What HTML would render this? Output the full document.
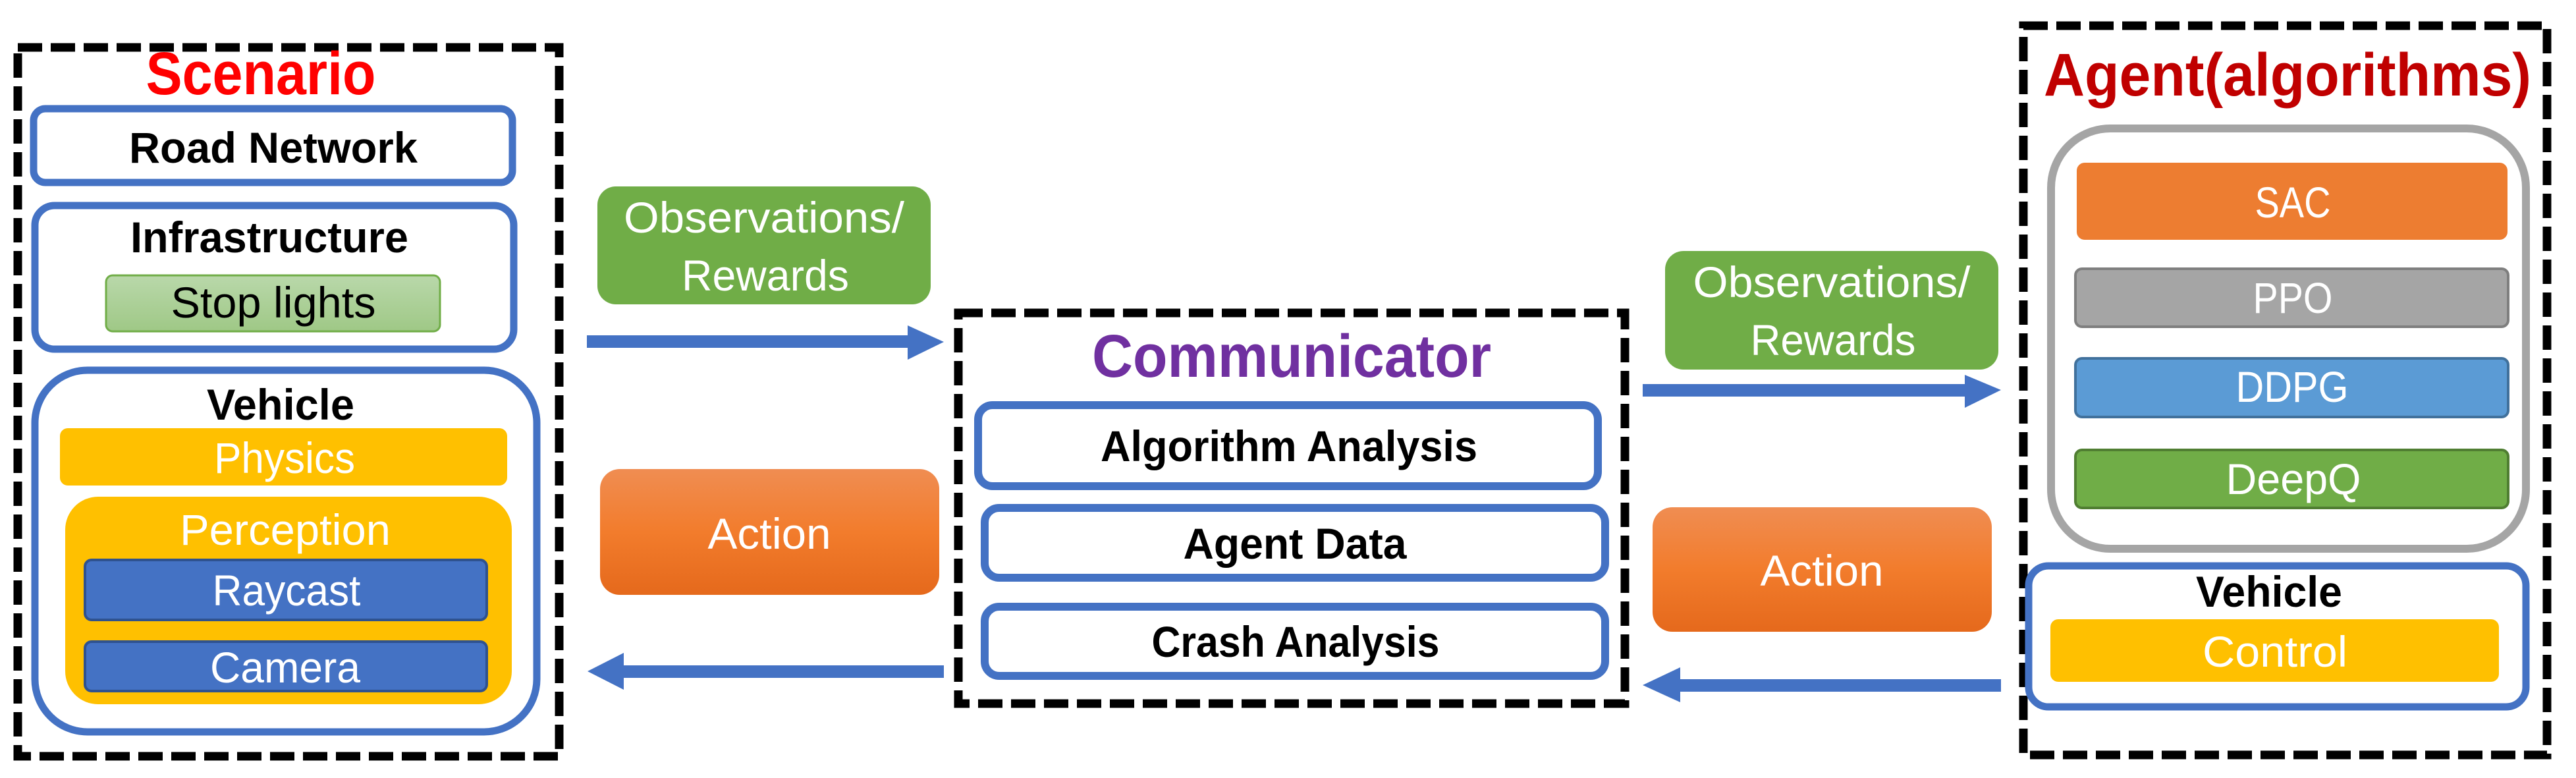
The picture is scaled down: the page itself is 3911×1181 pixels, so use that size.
<!DOCTYPE html>
<html><head><meta charset="utf-8"><style>
html,body{margin:0;padding:0;background:#fff;width:3911px;height:1181px;overflow:hidden}
svg{display:block}
text{font-family:"Liberation Sans",sans-serif}
.b{font-weight:bold;fill:#000}
.w{fill:#fff}
</style></head><body>
<svg width="3911" height="1181" viewBox="0 0 3911 1181" xmlns="http://www.w3.org/2000/svg">
<defs>
<linearGradient id="gs" x1="0" y1="0" x2="0" y2="1"><stop offset="0" stop-color="#b9d8aa"/><stop offset="1" stop-color="#9fc886"/></linearGradient>
<linearGradient id="go" x1="0" y1="0" x2="0" y2="1"><stop offset="0" stop-color="#f08d52"/><stop offset="0.5" stop-color="#f27c2c"/><stop offset="1" stop-color="#e5691c"/></linearGradient>
</defs>
<g fill="none" stroke="#000" stroke-width="13" stroke-dasharray="37 13">
<rect x="27" y="72" width="822" height="1076"/>
<rect x="1455" y="475" width="1012" height="593"/>
<rect x="3072" y="39" width="795" height="1107"/>
</g>
<!-- Scenario -->
<text x="396" y="143" font-size="92" font-weight="bold" fill="#ff0000" text-anchor="middle" textLength="349" lengthAdjust="spacingAndGlyphs">Scenario</text>
<rect x="51" y="165" width="727" height="112" rx="18" fill="#fff" stroke="#4472c4" stroke-width="11"/>
<text class="b" x="415" y="247" font-size="66" text-anchor="middle" textLength="438" lengthAdjust="spacingAndGlyphs">Road Network</text>
<rect x="53" y="312" width="727" height="218" rx="30" fill="#fff" stroke="#4472c4" stroke-width="11"/>
<text class="b" x="409" y="383" font-size="66" text-anchor="middle" textLength="422" lengthAdjust="spacingAndGlyphs">Infrastructure</text>
<rect x="161" y="418" width="507" height="85" rx="10" fill="url(#gs)" stroke="#70ad47" stroke-width="3"/>
<text x="415" y="482" font-size="66" fill="#000" text-anchor="middle" textLength="311" lengthAdjust="spacingAndGlyphs">Stop lights</text>
<rect x="53" y="562" width="762" height="549" rx="80" fill="#fff" stroke="#4472c4" stroke-width="11"/>
<text class="b" x="426" y="637" font-size="66" text-anchor="middle" textLength="224" lengthAdjust="spacingAndGlyphs">Vehicle</text>
<rect x="91" y="650" width="679" height="87" rx="12" fill="#ffc000"/>
<text class="w" x="432" y="718" font-size="66" text-anchor="middle" textLength="214" lengthAdjust="spacingAndGlyphs">Physics</text>
<rect x="99" y="754" width="678" height="315" rx="50" fill="#ffc000"/>
<text class="w" x="433" y="827" font-size="66" text-anchor="middle" textLength="320" lengthAdjust="spacingAndGlyphs">Perception</text>
<rect x="129" y="850" width="610" height="91" rx="10" fill="#4472c4" stroke="#2f528f" stroke-width="4"/>
<text class="w" x="435" y="919" font-size="66" text-anchor="middle" textLength="225" lengthAdjust="spacingAndGlyphs">Raycast</text>
<rect x="129" y="974" width="610" height="75" rx="10" fill="#4472c4" stroke="#2f528f" stroke-width="4"/>
<text class="w" x="433" y="1036" font-size="66" text-anchor="middle" textLength="228" lengthAdjust="spacingAndGlyphs">Camera</text>
<!-- left middle -->
<rect x="907" y="283" width="506" height="179" rx="28" fill="#70ad47"/>
<text class="w" x="1160" y="353" font-size="66" text-anchor="middle" textLength="426" lengthAdjust="spacingAndGlyphs">Observations/</text>
<text class="w" x="1162" y="441" font-size="66" text-anchor="middle" textLength="254" lengthAdjust="spacingAndGlyphs">Rewards</text>
<rect x="891" y="509" width="490" height="19" fill="#4472c4"/>
<polygon points="1378,494 1433,519 1378,546" fill="#4472c4"/>
<rect x="911" y="712" width="515" height="191" rx="30" fill="url(#go)"/>
<text class="w" x="1168" y="833" font-size="66" text-anchor="middle" textLength="187" lengthAdjust="spacingAndGlyphs">Action</text>
<rect x="945" y="1010" width="488" height="19" fill="#4472c4"/>
<polygon points="947,991 892,1019 947,1047" fill="#4472c4"/>
<!-- Communicator -->
<text x="1961" y="572" font-size="92" font-weight="bold" fill="#7030a0" text-anchor="middle" textLength="606" lengthAdjust="spacingAndGlyphs">Communicator</text>
<rect x="1485" y="615" width="941" height="123" rx="22" fill="#fff" stroke="#4472c4" stroke-width="12"/>
<text class="b" x="1957" y="700" font-size="66" text-anchor="middle" textLength="572" lengthAdjust="spacingAndGlyphs">Algorithm Analysis</text>
<rect x="1495" y="771" width="942" height="106" rx="22" fill="#fff" stroke="#4472c4" stroke-width="12"/>
<text class="b" x="1966" y="848" font-size="66" text-anchor="middle" textLength="339" lengthAdjust="spacingAndGlyphs">Agent Data</text>
<rect x="1495" y="921" width="942" height="105" rx="22" fill="#fff" stroke="#4472c4" stroke-width="12"/>
<text class="b" x="1967" y="997" font-size="66" text-anchor="middle" textLength="437" lengthAdjust="spacingAndGlyphs">Crash Analysis</text>
<!-- right middle -->
<rect x="2528" y="381" width="506" height="180" rx="28" fill="#70ad47"/>
<text class="w" x="2781" y="451" font-size="66" text-anchor="middle" textLength="421" lengthAdjust="spacingAndGlyphs">Observations/</text>
<text class="w" x="2783" y="539" font-size="66" text-anchor="middle" textLength="251" lengthAdjust="spacingAndGlyphs">Rewards</text>
<rect x="2494" y="583" width="492" height="19" fill="#4472c4"/>
<polygon points="2983,569 3038,592 2983,619" fill="#4472c4"/>
<rect x="2509" y="770" width="515" height="189" rx="30" fill="url(#go)"/>
<text class="w" x="2766" y="889" font-size="66" text-anchor="middle" textLength="187" lengthAdjust="spacingAndGlyphs">Action</text>
<rect x="2549" y="1031" width="489" height="19" fill="#4472c4"/>
<polygon points="2551,1013 2494,1040 2551,1066" fill="#4472c4"/>
<!-- Agent -->
<text x="3473" y="145" font-size="92" font-weight="bold" fill="#c00000" text-anchor="middle" textLength="740" lengthAdjust="spacingAndGlyphs">Agent(algorithms)</text>
<rect x="3114" y="195" width="721" height="638" rx="90" fill="#fff" stroke="#a5a5a5" stroke-width="12"/>
<rect x="3153" y="247" width="654" height="117" rx="12" fill="#ed7d31"/>
<text class="w" x="3481" y="330" font-size="66" text-anchor="middle" textLength="115" lengthAdjust="spacingAndGlyphs">SAC</text>
<rect x="3151" y="408" width="657" height="88" rx="10" fill="#a5a5a5" stroke="#7f7f7f" stroke-width="4"/>
<text class="w" x="3481" y="475" font-size="66" text-anchor="middle" textLength="121" lengthAdjust="spacingAndGlyphs">PPO</text>
<rect x="3151" y="544" width="657" height="89" rx="10" fill="#5b9bd5" stroke="#41719c" stroke-width="4"/>
<text class="w" x="3480" y="610" font-size="66" text-anchor="middle" textLength="171" lengthAdjust="spacingAndGlyphs">DDPG</text>
<rect x="3151" y="683" width="657" height="88" rx="10" fill="#70ad47" stroke="#507e32" stroke-width="4"/>
<text class="w" x="3482" y="750" font-size="66" text-anchor="middle" textLength="205" lengthAdjust="spacingAndGlyphs">DeepQ</text>
<rect x="3080" y="859" width="755" height="214" rx="30" fill="#fff" stroke="#4472c4" stroke-width="11"/>
<text class="b" x="3445" y="921" font-size="66" text-anchor="middle" textLength="222" lengthAdjust="spacingAndGlyphs">Vehicle</text>
<rect x="3113" y="940" width="681" height="95" rx="12" fill="#ffc000"/>
<text class="w" x="3454" y="1012" font-size="66" text-anchor="middle" textLength="220" lengthAdjust="spacingAndGlyphs">Control</text>
</svg>
</body></html>
